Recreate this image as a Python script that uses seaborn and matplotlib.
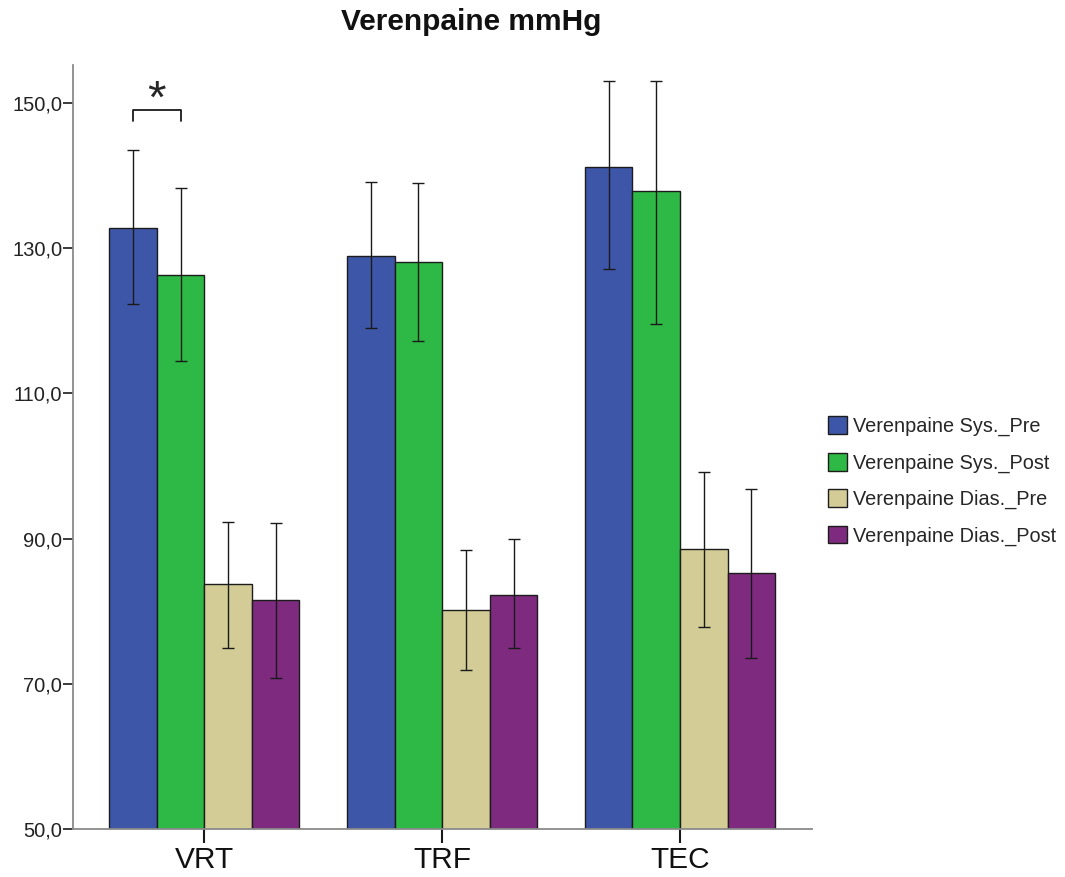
import pandas as pd
import seaborn as sns
import matplotlib.pyplot as plt
from matplotlib.ticker import FuncFormatter


groups = ["VRT", "TRF", "TEC"]
series = ["Verenpaine Sys._Pre", "Verenpaine Sys._Post",
          "Verenpaine Dias._Pre", "Verenpaine Dias._Post"]

sys_pre = [132.8, 128.9, 141.2]
sys_post = [126.3, 128.1, 137.9]
dias_pre = [83.7, 80.2, 88.6]
dias_post = [81.6, 82.3, 85.3]

# confidence interval ends
sys_pre_lo = [122.3, 119.0, 127.1]
sys_pre_hi = [143.5, 139.1, 153.0]
sys_post_lo = [114.4, 117.2, 119.6]
sys_post_hi = [138.2, 138.9, 153.0]
dias_pre_lo = [74.9, 71.9, 77.9]
dias_pre_hi = [92.3, 88.5, 99.2]
dias_post_lo = [70.8, 74.9, 73.6]
dias_post_hi = [92.2, 89.9, 96.9]

means = [sys_pre, sys_post, dias_pre, dias_post]
lows = [sys_pre_lo, sys_post_lo, dias_pre_lo, dias_post_lo]
highs = [sys_pre_hi, sys_post_hi, dias_pre_hi, dias_post_hi]

colors = ["#3D56A8", "#2EB845", "#D3CC96", "#7E2A7E"]

rows = []
for s, vals in zip(series, means):
    for g, v in zip(groups, vals):
        rows.append({"Ryhmä": g, "Muuttuja": s, "Arvo": v})
df = pd.DataFrame(rows)

sns.set_style("white")
plt.rcParams["font.family"] = ["Liberation Sans", "DejaVu Sans"]

fig = plt.figure(figsize=(10.65, 8.77), dpi=100)
ax = fig.add_axes([0.0688, 0.0544, 0.6934, 0.8715])

sns.barplot(
    data=df, x="Ryhmä", y="Arvo", hue="Muuttuja",
    order=groups, hue_order=series, palette=colors,
    width=0.8, errorbar=None, edgecolor="#1c1c1c", linewidth=1.0,
    saturation=1, ax=ax
)

for cont, vals, lo, hi in zip(ax.containers, means, lows, highs):
    xs = [b.get_x() + b.get_width() / 2 for b in cont]
    yerr = [[v - l for v, l in zip(vals, lo)], [h - v for v, h in zip(vals, hi)]]
    ax.errorbar(xs, vals, yerr=yerr, fmt="none", ecolor="#1a1a1a",
                elinewidth=1.0, capsize=4.3, capthick=1.0, zorder=5)

# significance bracket between the first two VRT bars
b1 = ax.containers[0][0]
b2 = ax.containers[1][0]
x1 = b1.get_x() + b1.get_width() / 2
x2 = b2.get_x() + b2.get_width() / 2
ax.plot([x1, x1, x2, x2], [147.5, 149.0, 149.0, 147.5], color="#1a1a1a",
        lw=1.3, clip_on=False)
ax.text((x1 + x2) / 2, 150.3, "*", ha="center", va="center", fontsize=34)

ax.set_ylim(50, 155.2)
ax.set_xlim(-0.551, 2.554)
ax.set_yticks([50, 70, 90, 110, 130, 150])
ax.yaxis.set_major_formatter(FuncFormatter(lambda v, p: f"{v:.1f}".replace(".", ",")))
ax.set_xlabel("")
ax.set_ylabel("")

for side in ["top", "right"]:
    ax.spines[side].set_visible(False)
for side in ["left", "bottom"]:
    ax.spines[side].set_color("#8a8a8a")
    ax.spines[side].set_linewidth(1.3)

ax.tick_params(axis="y", left=True, length=7, width=1.2, color="#1a1a1a",
               labelsize=14.5, pad=1, labelcolor="#222222")
ax.tick_params(axis="x", bottom=True, length=10, width=1.5, color="#1a1a1a",
               labelsize=21.5, pad=2, labelcolor="#111111")

handles, labels = ax.get_legend_handles_labels()
ax.get_legend().remove()
fig.legend(handles, labels, loc="center left", bbox_to_anchor=(0.777, 0.4515),
           frameon=False, fontsize=14.3, borderpad=0, borderaxespad=0,
           handlelength=1.0, handleheight=1.0, handletextpad=0.3,
           labelspacing=0.83)

fig.text(0.442, 0.975, "Verenpaine mmHg", ha="center", va="center",
         fontsize=21.5, fontweight="bold", color="#111111")

fig.savefig("out.png", dpi=100, facecolor="white")
